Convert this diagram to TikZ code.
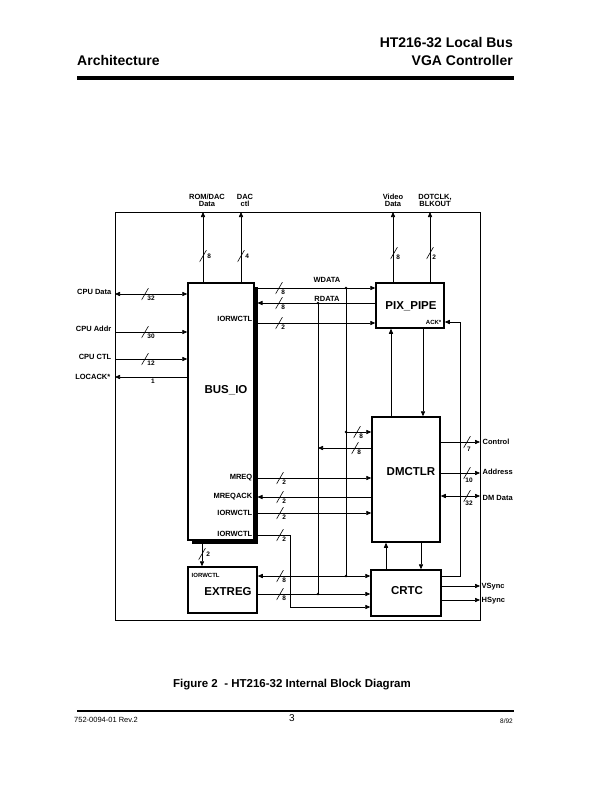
\documentclass[tikz,border=0pt]{standalone}
\usepackage{fontspec}
\setmainfont{Liberation Sans}
\usetikzlibrary{arrows.meta,shadows}

\begin{document}
\begin{tikzpicture}[x=1pt, y=-1pt,
  blk/.style={draw, line width=1.5pt, fill=white, inner sep=0pt},
  lbl/.style={font=\fontsize{7.5}{8.5}\selectfont\bfseries, inner sep=0.5pt},
  sml/.style={font=\fontsize{6}{7}\selectfont\bfseries, inner sep=0.5pt},
  num/.style={font=\fontsize{6.5}{7}\selectfont\bfseries, inner sep=0.5pt},
  nbr/.style={num, xshift=-2pt, yshift=2.5pt},
  big/.style={font=\fontsize{11.5}{12}\selectfont\bfseries, inner sep=0pt},
  wire/.style={line width=0.7pt},
  arr/.style={wire, -{Triangle[length=5pt,width=4.2pt]}},
  dbl/.style={wire, {Triangle[length=5pt,width=4.2pt]}-{Triangle[length=5pt,width=4.2pt]}},
  bw/.style={inner sep=0pt, minimum width=7pt, minimum height=12pt,
    path picture={\draw[line width=0.6pt] (path picture bounding box.south west) -- (path picture bounding box.north east);}},
  dot/.style={circle, fill, inner sep=0pt, minimum size=2.6pt}]

\useasboundingbox (0,0) rectangle (607,795);

% page header and footer
\node[font=\fontsize{14}{16}\selectfont\bfseries, inner sep=0pt, anchor=base west] (arch) at (77,65) {Architecture};
\node[font=\fontsize{14}{16}\selectfont\bfseries, inner sep=0pt, anchor=base east] (chip) at (513,47) {HT216-32 Local Bus};
\node[font=\fontsize{14}{16}\selectfont\bfseries, inner sep=0pt, anchor=base east] (vga) at (513,65) {VGA Controller};
\draw[line width=4pt] (77,78) -- (514,78);
\node[font=\fontsize{11.5}{13}\selectfont\bfseries, inner sep=0pt, anchor=base] (cap) at (292,687) {Figure 2\ \ - HT216-32 Internal Block Diagram};
\draw[line width=1.2pt] (77,711) -- (514,711);
\node[font=\fontsize{7.5}{8}\selectfont, inner sep=0pt, anchor=base west] (docno) at (74,722) {752-0094-01 Rev.2};
\node[font=\fontsize{10}{11}\selectfont, inner sep=0pt, anchor=base] (pg) at (292,721) {3};
\node[font=\fontsize{6.5}{7}\selectfont, inner sep=0pt, anchor=base east] (date) at (513,723) {8/92};

% chip outline
\draw[wire] (115,212) rectangle (480,620);

% blocks
\node[blk, minimum width=66pt, minimum height=257pt,
  drop shadow={shadow xshift=3.5pt, shadow yshift=-3.5pt, fill=black, opacity=1}] (busio) at (221,411.5) {};
\node[blk, minimum width=68pt, minimum height=45pt] (pixpipe) at (410,305.5) {};
\node[blk, minimum width=68pt, minimum height=125pt] (dmctlr) at (406,479.5) {};
\node[blk, minimum width=70pt, minimum height=46pt] (crtc) at (406,593) {};
\node[blk, minimum width=69pt, minimum height=46pt] (extreg) at (222.5,590) {};

\node[big] (tbusio) at (226,390) {BUS\_IO};
\node[big] (tpix) at (411,306) {PIX\_PIPE};
\node[big] (tdm) at (411,472) {DMCTLR};
\node[big] (tcrtc) at (407,591) {CRTC};
\node[big] (text) at (228,592) {EXTREG};
\node[sml, anchor=east] (tack) at (442,322) {ACK*};
\node[sml, anchor=west] (tex) at (191,575) {IORWCTL};

% outside pins
\coordinate (romd) at (203,212);
\coordinate (dacc) at (241,212);
\coordinate (vidd) at (393,212);
\coordinate (dotc) at (430,212);
\coordinate (cpud) at (115,294);
\coordinate (cpua) at (115,332);
\coordinate (cpuc) at (115,359);
\coordinate (lack) at (115,377);
\coordinate (ctl) at (480,442);
\coordinate (addr) at (480,473);
\coordinate (dmd) at (480,496);
\coordinate (vs) at (480,586);
\coordinate (hs) at (480,600);

\node[lbl, align=center, anchor=south, text depth=0pt, inner sep=0pt] (lrom) at (207,207) {ROM/DAC\\[-1pt]Data};
\node[lbl, align=center, anchor=south, text depth=0pt, inner sep=0pt] (ldac) at (245,207) {DAC\\[-1pt]ctl};
\node[lbl, align=center, anchor=south, text depth=0pt, inner sep=0pt] (lvid) at (393,207) {Video\\[-1pt]Data};
\node[lbl, align=center, anchor=south, text depth=0pt, inner sep=0pt] (ldot) at (435,207) {DOTCLK,\\[-1pt]BLKOUT};
\node[lbl, anchor=east] (lcpud) at (112,292) {CPU Data};
\node[lbl, anchor=east] (lcpua) at (112,329) {CPU Addr};
\node[lbl, anchor=east] (lcpuc) at (112,357) {CPU CTL};
\node[lbl, anchor=east] (llack) at (111,377) {LOCACK*};
\node[lbl, anchor=west] (lctl) at (482,442) {Control};
\node[lbl, anchor=west] (laddr) at (482,472) {Address};
\node[lbl, anchor=west] (ldmd) at (482,498) {DM Data};
\node[lbl, anchor=west] (lvs) at (481,587) {VSync};
\node[lbl, anchor=west] (lhs) at (481,601) {HSync};

\draw[arr] (romd |- busio.north) -- (romd);
\draw[arr] (dacc |- busio.north) -- (dacc);
\draw[arr] (vidd |- pixpipe.north) -- (vidd);
\draw[arr] (dotc |- pixpipe.north) -- (dotc);
\draw[dbl] (cpud) -- (cpud -| busio.west);
\draw[arr] (cpua) -- (cpua -| busio.west);
\draw[arr] (cpuc) -- (cpuc -| busio.west);
\draw[arr] (lack -| busio.west) -- (lack);
\draw[arr] (ctl -| dmctlr.east) -- (ctl);
\draw[arr] (addr -| dmctlr.east) -- (addr);
\draw[dbl] (dmd -| dmctlr.east) -- (dmd);
\draw[arr] (vs -| crtc.east) -- (vs);
\draw[arr] (hs -| crtc.east) -- (hs);

% internal buses
\coordinate (wd) at (254,288);
\coordinate (rd) at (254,303);
\coordinate (iw1) at (254,323);
\coordinate (mreq) at (254,478);
\coordinate (mack) at (254,497);
\coordinate (iw2) at (254,513);
\coordinate (iw3) at (254,535);
\coordinate (wdj) at (346,288);
\coordinate (rdj) at (318,303);
\coordinate (dmi) at (346,432);
\coordinate (dmo) at (318,448);
\coordinate (ex1) at (346,576);
\coordinate (ex2) at (318,594);
\coordinate (iwb) at (290,535);
\coordinate (iwc) at (290,607);
\coordinate (ackc) at (460,576);
\coordinate (acka) at (460,322);

\node[lbl] (lwd) at (327,280) {WDATA};
\node[lbl] (lrd) at (327,299) {RDATA};
\node[lbl, anchor=east] (liw1) at (253,319) {IORWCTL};
\node[lbl, anchor=east] (lmreq) at (253,478) {MREQ};
\node[lbl, anchor=east] (lmack) at (253,497) {MREQACK};
\node[lbl, anchor=east] (liw2) at (253,513) {IORWCTL};
\node[lbl, anchor=east] (liw3) at (253,534) {IORWCTL};

\draw[arr] (wd) -- (wd -| pixpipe.west);
\draw[arr, shorten >=3.5pt] (rd -| pixpipe.west) -- (rd);
\draw[arr] (iw1) -- (iw1 -| pixpipe.west);
\draw[wire] (wdj) -- (ex1);
\draw[wire] (rdj) -- (ex2);
\draw[arr] (dmi) -- (dmi -| dmctlr.west);
\draw[arr] (dmo -| dmctlr.west) -- (dmo);
\draw[arr] (mreq) -- (mreq -| dmctlr.west);
\draw[arr, shorten >=3.5pt] (mack -| dmctlr.west) -- (mack);
\draw[arr] (iw2) -- (iw2 -| dmctlr.west);
\draw[arr] (iw3) -- (iwb) -- (iwc) -- (iwc -| crtc.west);
\draw[dbl] (extreg.east |- ex1) -- (ex1 -| crtc.west);
\draw[arr] (extreg.east |- ex2) -- (ex2 -| crtc.west);
\draw[arr] ([xshift=-20.5pt]extreg.north |- busio.south) -- ([xshift=-20.5pt]extreg.north);
\draw[arr] ([xshift=-15pt]dmctlr.north) -- ([xshift=-15pt]dmctlr.north |- pixpipe.south);
\draw[arr] ([xshift=17pt]dmctlr.north |- pixpipe.south) -- ([xshift=17pt]dmctlr.north);
\draw[arr] ([xshift=-20pt]crtc.north) -- ([xshift=-20pt]crtc.north |- dmctlr.south);
\draw[arr] ([xshift=15pt]crtc.north |- dmctlr.south) -- ([xshift=15pt]crtc.north);
\draw[arr] (ackc -| crtc.east) -- (ackc) -- (acka) -- (acka -| pixpipe.east);

\node[dot] (j1) at (wdj) {};
\node[dot] (j2) at (rdj) {};
\node[dot] (j3) at (dmi) {};
\node[dot] (j4) at (ex1) {};
\node[dot] (j5) at (ex2) {};

% bus widths
\node[bw, label={[num]right:8}] (w1) at (203,256) {};
\node[bw, label={[num]right:4}] (w2) at (241,256) {};
\node[bw, label={[nbr]below right:8}] (w3) at (394,253) {};
\node[bw, label={[nbr]below right:2}] (w4) at (430,253) {};
\node[bw, label={[nbr]below right:32}] (w5) at (145,294) {};
\node[bw, label={[nbr]below right:30}] (w6) at (145,332) {};
\node[bw, label={[nbr]below right:12}] (w7) at (145,359) {};
\node[num] (w8) at (153,381) {1};
\node[bw, label={[nbr]below right:8}] (w9) at (279,288) {};
\node[bw, label={[nbr]below right:8}] (w10) at (279,303) {};
\node[bw, label={[nbr]below right:2}] (w11) at (279,323) {};
\node[bw, label={[nbr]below right:8}] (w12) at (357,432) {};
\node[bw, label={[nbr]below right:8}] (w13) at (355,448) {};
\node[bw, label={[nbr]below right:2}] (w14) at (280,478) {};
\node[bw, label={[nbr]below right:2}] (w15) at (280,497) {};
\node[bw, label={[nbr]below right:2}] (w16) at (280,513) {};
\node[bw, label={[nbr]below right:2}] (w17) at (280,535) {};
\node[bw, label={[nbr]below right:8}] (w18) at (280,576) {};
\node[bw, label={[nbr]below right:8}] (w19) at (280,594) {};
\node[bw, label={[num]right:2}] (w20) at (202,554) {};
\node[bw, label={[num, xshift=2pt, yshift=2pt]below:7}] (w21) at (467,442) {};
\node[bw, label={[num, xshift=2pt, yshift=2pt]below:10}] (w22) at (467,473) {};
\node[bw, label={[num, xshift=2pt, yshift=2pt]below:32}] (w23) at (467,496) {};
\end{tikzpicture}
\end{document}
